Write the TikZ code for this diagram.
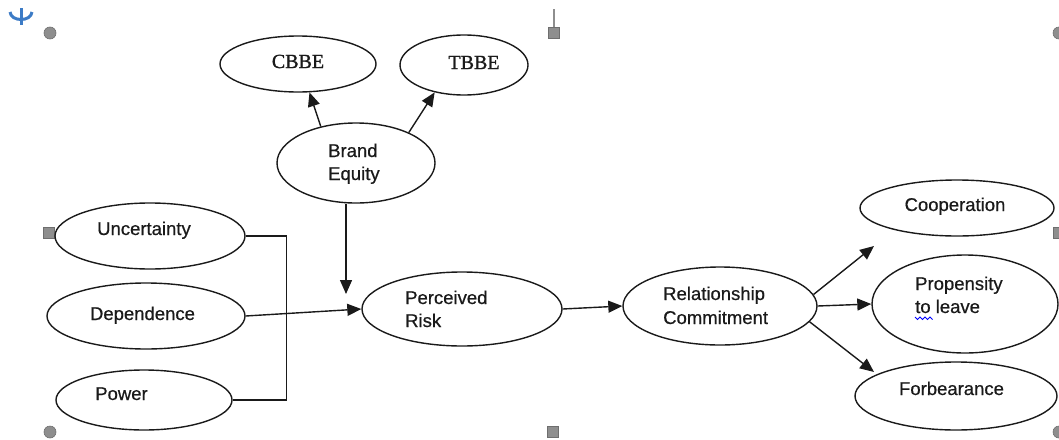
\documentclass[tikz,border=0pt]{standalone}
\usepackage{fontspec}
\setmainfont[FakeBold=0.6]{Liberation Sans}
\newfontfamily\cbserif[FakeBold=1.2]{Liberation Serif}
\usetikzlibrary{shapes.geometric,arrows.meta}
\definecolor{handlegray}{HTML}{8E8E8E}
\definecolor{handleedge}{HTML}{6E6E6E}
\definecolor{anchorblue}{HTML}{3C7BC6}
\definecolor{inkgray}{HTML}{1A1A1A}
\begin{document}
\begin{tikzpicture}[x=1pt,y=-1pt,
  oval/.style={ellipse,draw=inkgray,line width=1.4pt,inner sep=0pt},
  lbl/.style={inner sep=0pt,text=inkgray,font=\fontsize{18.5}{23}\selectfont},
  serlbl/.style={inner sep=0pt,text=inkgray,font=\cbserif\fontsize{20}{24}\selectfont},
  arr/.style={draw=inkgray,line width=1.4pt,-{Triangle[length=14pt,width=12pt]}},
  ln/.style={draw=inkgray,line width=1.4pt},
  hcirc/.style={circle,fill=handlegray,draw=handleedge,line width=0.6pt,minimum size=12pt,inner sep=0pt},
  hsq/.style={rectangle,fill=handlegray,draw=handleedge,line width=0.6pt,minimum size=11pt,inner sep=0pt}]
\useasboundingbox (0,0) rectangle (1059,439);
% selection handles
\node[hcirc] (h1) at (50,33) {};
\node[hsq] (h2) at (554,33) {};
\draw[handlegray,line width=1.2pt] (554,9) -- (h2.north);
\node[hcirc] (h3) at (1059,33) {};
\node[hsq] (h4) at (49,233) {};
\node[hsq] (h5) at (1059,233) {};
\node[hcirc] (h6) at (50,432) {};
\node[hsq] (h7) at (553,432) {};
\node[hcirc] (h8) at (1059,432) {};
% anchor icon
\draw[anchorblue,line width=3pt] (10,12) .. controls (11,22) and (31,22) .. (32,12);
\draw[anchorblue,line width=3pt] (21,8) -- (21,25);
% ellipses
\node[oval,minimum width=156pt,minimum height=56pt] (cbbe) at (298,64) {};
\node[oval,minimum width=128pt,minimum height=60pt] (tbbe) at (464,65) {};
\node[oval,minimum width=158pt,minimum height=80pt] (be) at (356,163) {};
\node[oval,minimum width=190pt,minimum height=66pt] (unc) at (150,236) {};
\node[oval,minimum width=198pt,minimum height=66pt] (dep) at (146,316) {};
\node[oval,minimum width=176pt,minimum height=60pt] (pow) at (144,400) {};
\node[oval,minimum width=200pt,minimum height=74pt] (pr) at (462,309) {};
\node[oval,minimum width=194pt,minimum height=78pt] (rc) at (720,306) {};
\node[oval,minimum width=194pt,minimum height=56pt] (coop) at (957,208) {};
\node[oval,minimum width=186pt,minimum height=98pt] (prop) at (965,304) {};
\node[oval,minimum width=202pt,minimum height=68pt] (forb) at (956,396) {};
% texts
\node[serlbl,anchor=base] (tcbbe) at (298,68) {CBBE};
\node[serlbl,anchor=base] (ttbbe) at (474,69) {TBBE};
\node[lbl,anchor=base west] (tbe1) at (328,157) {Brand};
\node[lbl,anchor=base west] (tbe2) at (328,180) {Equity};
\node[lbl,anchor=base] (tunc) at (144,235) {Uncertainty};
\node[lbl,anchor=base] (tdep) at (142.5,320) {Dependence};
\node[lbl,anchor=base] (tpow) at (121.5,400) {Power};
\node[lbl,anchor=base west] (tpr1) at (405,304) {Perceived};
\node[lbl,anchor=base west] (tpr2) at (405,327) {Risk};
\node[lbl,anchor=base west] (trc1) at (663,300) {Relationship};
\node[lbl,anchor=base west] (trc2) at (663,324) {Commitment};
\node[lbl,anchor=base] (tcoop) at (955,211) {Cooperation};
\node[lbl,anchor=base west] (tprop1) at (915,290) {Propensity};
\node[lbl,anchor=base west] (tprop2) at (915,313) {to leave};
\node[lbl,anchor=base] (tforb) at (951.5,395) {Forbearance};
% wavy underline under "to"
\draw[blue,line width=0.8pt] (915,317) -- (917.5,319.5) -- (920,317) -- (922.5,319.5) -- (925,317) -- (927.5,319.5) -- (930,317) -- (932.5,319.5);
% connectors
\draw[arr] (be.134) -- (cbbe.-68);
\draw[arr] (be.30) -- (tbbe.-137);
\coordinate (beEnd) at (346,294);
\draw[arr] (be.south -| beEnd) -- (beEnd);
\draw[ln] (unc.east) -- ++(41,0) |- (pow.east);
\draw[arr] (dep.east) -- (pr.west);
\draw[arr] (pr.east) -- (rc.west);
\coordinate (upEnd) at (874,246);
\coordinate (dnEnd) at (874,372);
\draw[arr] (rc.7) -- (upEnd);
\draw[arr] (rc.east) -- (prop.west);
\draw[arr] (rc.-10) -- (dnEnd);
\end{tikzpicture}
\end{document}
